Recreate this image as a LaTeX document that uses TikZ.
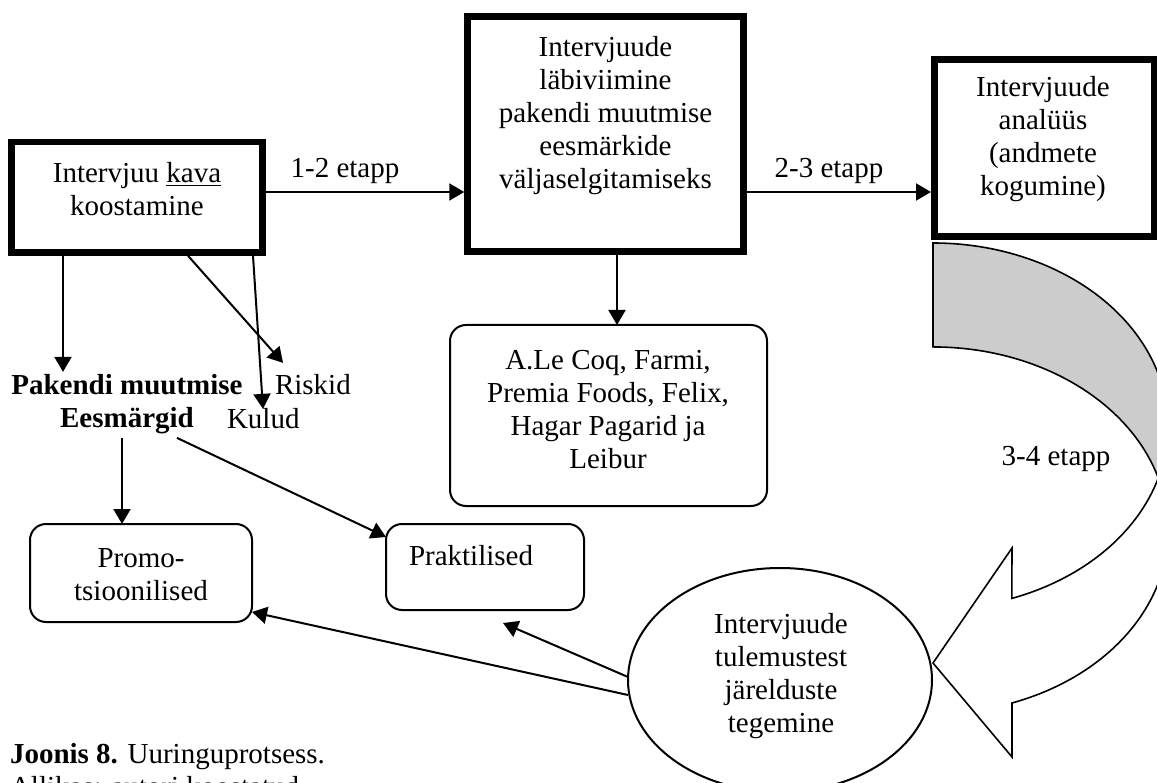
\documentclass[tikz,border=0pt]{standalone}
\usepackage{fontspec}
\setmainfont{Liberation Serif}
\usetikzlibrary{arrows.meta,shapes.geometric}
\newcommand{\mltext}[1]{\begin{tabular}[t]{@{}c@{}}#1\end{tabular}}
\newcommand{\ulword}[1]{\setbox0\hbox{#1}\rlap{\rule[-3pt]{\wd0}{1.3pt}}\box0}
\begin{document}
\begin{tikzpicture}[x=1pt,y=-1pt,
  every node/.style={font=\fontsize{29}{33}\selectfont, inner sep=0pt, outer sep=0pt},
  thickbox/.style={draw, rectangle, line width=6.5pt, outer sep=3.25pt},
  rbox/.style={draw, rectangle, line width=2pt, rounded corners=16pt},
  txt/.style={anchor=base, align=center},
  conn/.style={line width=2pt, -{Triangle[width=17pt,length=15pt]}},
  band/.style={line width=1.6pt, line join=miter}
]
\useasboundingbox (0,0) rectangle (1157,783);

% top boxes
\node[thickbox, minimum width=251pt, minimum height=110.5pt] (A) at (137,197.25) {};
\node[txt] (At) at (137,183) {\mltext{Intervjuu \ulword{kava}\\koostamine}};

\node[thickbox, minimum width=276pt, minimum height=235pt] (B) at (605.5,134) {};
\node[txt] (Bt) at (605.5,57) {\mltext{Intervjuude\\läbiviimine\\pakendi muutmise\\eesmärkide\\väljaselgitamiseks}};

\node[thickbox, minimum width=219.5pt, minimum height=177pt] (C) at (1044,148) {};
\node[txt] (Ct) at (1043,97) {\mltext{Intervjuude\\analüüs\\(andmete\\kogumine)}};

\draw[conn] (A.east |- 0,192) -- (B.west |- 0,192);
\node[txt] (L12) at (345,178) {1-2 etapp};
\draw[conn] (B.east |- 0,192) -- (C.west |- 0,192);
\node[txt] (L23) at (829,178) {2-3 etapp};

% labels under box A
\node[txt] (PE) at (127,395) {\bfseries\mltext{Pakendi muutmise\\Eesmärgid}};
\node[anchor=base west] (R) at (275,395) {Riskid};
\node[anchor=base west] (K) at (227,429) {Kulud};

\draw[conn] (63,0 |- A.south) -- (63,0 |- PE.north);
\draw[conn] (188,0 |- A.south) -- ([shift={(8,-12)}]R.north west);
\draw[conn] (253,0 |- A.south) -- (263,0 |- K.north);

% rounded boxes
\node[rbox, minimum width=222pt, minimum height=98pt] (P1) at (141,573) {};
\node[txt] (P1t) at (141,567) {\mltext{Promo-\\tsioonilised}};

\node[rbox, minimum width=198pt, minimum height=86pt] (P2) at (485,567) {};
\node[anchor=base west] (P2t) at (409,565) {Praktilised};

\node[rbox, minimum width=317pt, minimum height=181pt] (Co) at (608.5,415.5) {};
\node[txt] (Cot) at (608,370) {\mltext{A.Le Coq, Farmi,\\Premia Foods, Felix,\\Hagar Pagarid ja\\Leibur}};

\draw[conn] (617,0 |- B.south) -- (617,0 |- Co.north);
\draw[conn] (122,0 |- PE.south) -- (122,0 |- P1.north);
\draw[conn] (177,0 |- PE.south) -- (P2.west |- 0,537);

% curved arrow 3-4
\coordinate (I) at (1158.3,478);
\draw[band, fill=gray!40] (933,243) arc[start angle=-90, end angle=16.5, x radius=235, y radius=183]
   arc[start angle=-16.5, end angle=-90, x radius=235, y radius=183] -- cycle;
\draw[band, fill=white] (I) arc[start angle=16.5, end angle=70.4, x radius=235, y radius=183]
   -- (1012,548) -- (933,663) -- (1012,757) -- (1012,703)
   arc[start angle=70.4, end angle=-16.5, x radius=235, y radius=183] -- cycle;
\node[txt] (L34) at (1056,465) {3-4 etapp};

% ellipse
\node[draw, ellipse, line width=2pt, fill=white, minimum width=304pt, minimum height=224pt] (E) at (780,680) {};
\node[txt] (Et) at (781,633) {\mltext{Intervjuude\\tulemustest\\järelduste\\tegemine}};

\draw[conn] ([yshift=-15pt]E.west) -- ([yshift=10pt]P1.south east);
\draw[conn] ([yshift=3pt]E.west) -- ([shift={(18,13)}]P2.south);

% caption
\node[anchor=base west] (cap1) at (10,763) {\textbf{Joonis 8.} Uuringuprotsess.};
\node[anchor=base west] (cap2) at (10,796) {Allikas: autori koostatud};
\end{tikzpicture}
\end{document}
